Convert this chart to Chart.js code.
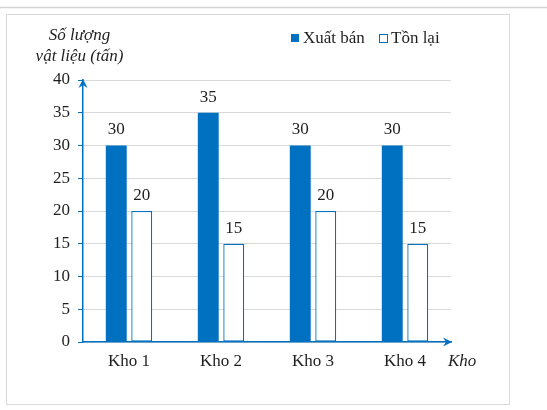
<!DOCTYPE html>
<html>
<head>
<meta charset="utf-8">
<script src="https://cdn.jsdelivr.net/npm/chart.js@4/dist/chart.umd.min.js"></script>
<style>
  html, body { margin: 0; padding: 0; background: #fff; }
  #wrap { position: relative; width: 547px; height: 410px; }
</style>
</head>
<body>
<div id="wrap"><canvas id="chart" width="547" height="410"></canvas></div>
<script>
// Warehouse stock chart: sold vs. left over, in tonnes, per warehouse.
const categories = ['Kho 1', 'Kho 2', 'Kho 3', 'Kho 4'];
const seriesNames = ['Xuất bán', 'Tồn lại'];
const soldValues = [30, 35, 30, 30];
const leftValues = [20, 15, 20, 15];
const yTicks = { min: 0, max: 40, step: 5 };
const yTitleLines = ['Số lượng', 'vật liệu (tấn)'];
const xTitle = 'Kho';

const BLUE = '#0070c0';
const TEXT = '#1f1f1f';
const FONT = 'Liberation Serif';

Chart.defaults.font.family = FONT;
Chart.defaults.font.size = 17;

// Page furniture, axis arrows, titles, legend and value labels.
const decorPlugin = {
  id: 'decor',
  beforeDraw(chart) {
    const ctx = chart.ctx;
    ctx.save();
    ctx.fillStyle = '#fff';
    ctx.fillRect(0, 0, chart.width, chart.height);
    ctx.strokeStyle = '#d4d4d4';
    ctx.lineWidth = 1.5;
    ctx.beginPath();
    ctx.moveTo(0, 7.5);
    ctx.lineTo(chart.width, 7.5);
    ctx.stroke();
    ctx.strokeStyle = '#d9d9d9';
    ctx.lineWidth = 1;
    ctx.strokeRect(6.5, 14.5, 503, 390);
    ctx.restore();
  },
  afterDraw(chart) {
    const ctx = chart.ctx;
    const { y } = chart.scales;
    const { left, right, bottom } = chart.chartArea;
    const top = y.getPixelForValue(yTicks.max);
    const zero = y.getPixelForValue(0);

    ctx.save();
    ctx.fillStyle = BLUE;
    // arrow on the value axis
    ctx.beginPath();
    ctx.moveTo(left, top - 1);
    ctx.lineTo(left + 4.5, top + 8);
    ctx.lineTo(left, top + 5);
    ctx.lineTo(left - 4.5, top + 8);
    ctx.closePath();
    ctx.fill();
    // arrow on the category axis
    ctx.beginPath();
    ctx.moveTo(right + 1, zero);
    ctx.lineTo(right - 8, zero - 4.5);
    ctx.lineTo(right - 5, zero);
    ctx.lineTo(right - 8, zero + 4.5);
    ctx.closePath();
    ctx.fill();

    ctx.fillStyle = TEXT;
    ctx.textBaseline = 'middle';
    ctx.textAlign = 'center';
    ctx.font = 'italic 17px "' + FONT + '"';
    ctx.fillText(yTitleLines[0], left - 3.5, 36);
    ctx.fillText(yTitleLines[1], left - 3.5, 57);
    ctx.textAlign = 'left';
    ctx.fillText(xTitle, right - 3, bottom + 20);

    // legend
    ctx.font = '17px "' + FONT + '"';
    const legendX = [291, 379];
    chart.data.datasets.forEach((ds, i) => {
      const lx = legendX[i];
      if (i === 0) {
        ctx.fillStyle = BLUE;
        ctx.fillRect(lx, 34, 8, 8);
      } else {
        ctx.strokeStyle = BLUE;
        ctx.lineWidth = 1;
        ctx.fillStyle = '#fff';
        ctx.fillRect(lx + 0.5, 34.5, 8, 8);
        ctx.strokeRect(lx + 0.5, 34.5, 8, 8);
      }
      ctx.fillStyle = TEXT;
      ctx.fillText(ds.label, lx + 12, 38.5);
    });

    // value labels above each bar
    ctx.textAlign = 'center';
    chart.data.datasets.forEach((ds, i) => {
      chart.getDatasetMeta(i).data.forEach((bar, j) => {
        ctx.fillText(String(ds.data[j]), bar.x, bar.y - 15.5);
      });
    });
    ctx.restore();
  }
};

new Chart(document.getElementById('chart').getContext('2d'), {
  type: 'bar',
  data: {
    labels: categories,
    datasets: [
      {
        label: seriesNames[0],
        data: soldValues,
        backgroundColor: BLUE,
        borderWidth: 0
      },
      {
        label: seriesNames[1],
        data: leftValues,
        backgroundColor: '#fff',
        borderColor: BLUE,
        borderWidth: 1.3,
        borderSkipped: false
      }
    ]
  },
  options: {
    responsive: false,
    animation: false,
    devicePixelRatio: 1,
    categoryPercentage: 0.554,
    barPercentage: 0.82,
    layout: { padding: { left: 43, right: 96, top: 80, bottom: 28 } },
    plugins: {
      legend: { display: false },
      tooltip: { enabled: false }
    },
    scales: {
      x: {
        grid: { display: false, drawTicks: false, tickLength: 0 },
        border: { display: true, color: BLUE, width: 1.5, z: 1 },
        ticks: { color: TEXT, padding: 9, font: { family: FONT, size: 17 } },
        afterFit: (scale) => { scale.height = 40; }
      },
      y: {
        min: yTicks.min,
        max: yTicks.max,
        grid: { color: '#d9d9d9', tickColor: BLUE, tickLength: 5, lineWidth: 1 },
        border: { display: true, color: BLUE, width: 1.5, z: 1 },
        ticks: {
          stepSize: yTicks.step,
          color: TEXT,
          padding: 8,
          font: { family: FONT, size: 17 }
        },
        afterFit: (scale) => { scale.width = 40; }
      }
    }
  },
  plugins: [decorPlugin]
});
</script>
</body>
</html>
